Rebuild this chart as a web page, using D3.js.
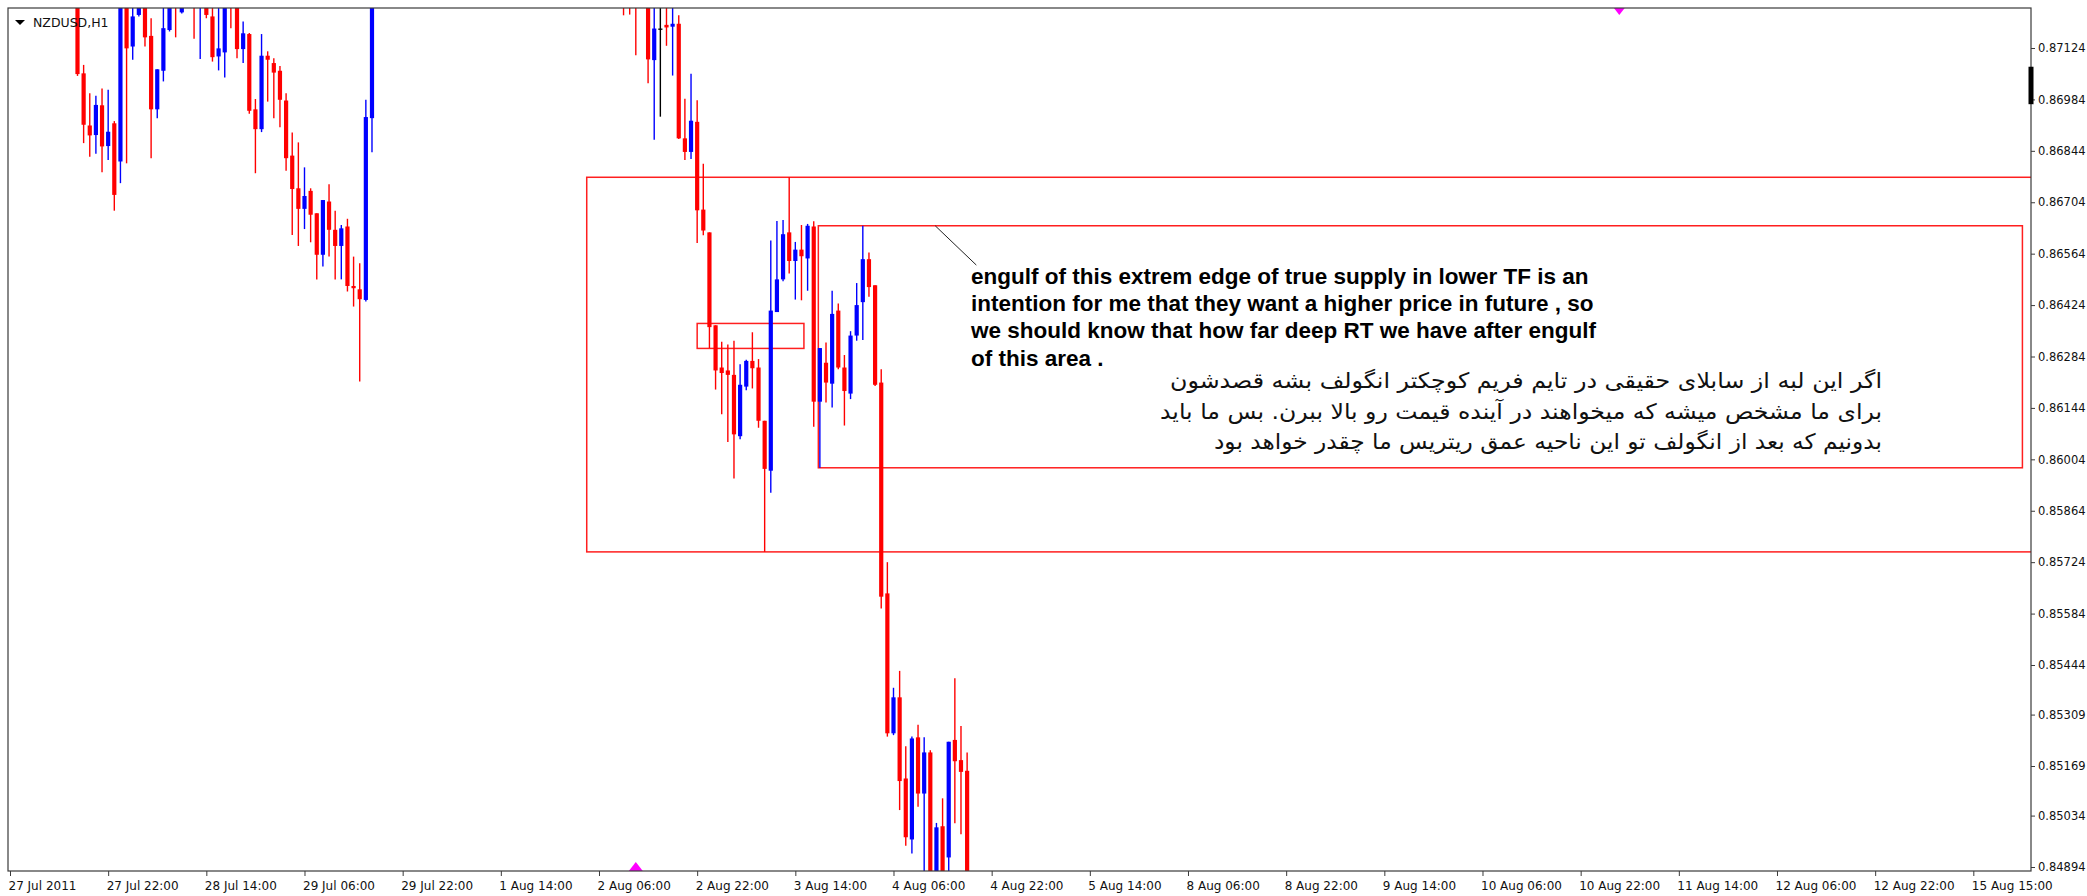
<!DOCTYPE html>
<html>
<head>
<meta charset="utf-8">
<script src="https://cdn.jsdelivr.net/npm/d3@7"></script>
<style>
  body { margin: 0; background: #fff; }
  svg { display: block; }
</style>
</head>
<body>
<div id="canvas"></div>
<script>
// time axis labels, one every 16 hourly bars (bar 0 = 27 Jul 06:00)
const timeLabels = ["27 Jul 2011", "27 Jul 22:00", "28 Jul 14:00", "29 Jul 06:00", "29 Jul 22:00",
  "1 Aug 14:00", "2 Aug 06:00", "2 Aug 22:00", "3 Aug 14:00", "4 Aug 06:00", "4 Aug 22:00",
  "5 Aug 14:00", "8 Aug 06:00", "8 Aug 22:00", "9 Aug 14:00", "10 Aug 06:00", "10 Aug 22:00",
  "11 Aug 14:00", "12 Aug 06:00", "12 Aug 22:00", "15 Aug 15:00"];
const priceTicks = [0.87124, 0.86984, 0.86844, 0.86704, 0.86564, 0.86424, 0.86284, 0.86144,
  0.86004, 0.85864, 0.85724, 0.85584, 0.85444, 0.85309, 0.85169, 0.85034, 0.84894];

// candles that are (at least partly) inside the window
const barIndex = [11, 12, 13, 14, 15, 16, 17, 18, 19, 20, 21, 22, 23, 24, 25, 26, 27, 28, 30, 31,
  32, 33, 34, 35, 36, 37, 38, 39, 40, 41, 42, 43, 44, 45, 46, 47, 48, 49, 50, 51,
  52, 53, 54, 55, 56, 57, 58, 59,
  100, 101, 102, 104, 105, 106, 107, 108, 109, 110, 111, 112, 113, 114, 115, 116, 117, 118,
  119, 120, 121, 122, 123, 124, 125, 126, 127, 128, 129, 130, 131, 132, 133, 134, 135, 136,
  137, 138, 139, 140, 141, 142, 143, 144, 145, 146, 147, 148, 149, 150, 151, 152, 153, 154, 155, 156];
const open = [0.8727, 0.87055, 0.86913, 0.86887, 0.86968, 0.86857, 0.86919, 0.86815, 0.8727, 0.87128,
  0.87214, 0.8727, 0.87157, 0.86957, 0.87062, 0.87173, 0.8729, 0.87221, 0.8730, 0.8726,
  0.8728, 0.87210, 0.87101, 0.87112, 0.8729, 0.8727, 0.87121, 0.87162, 0.86957, 0.86903,
  0.87103, 0.87083, 0.87062, 0.86981, 0.86831, 0.86742, 0.86686, 0.86735, 0.86674, 0.86561,
  0.86706, 0.86629, 0.86585, 0.86638, 0.86476, 0.86467, 0.86438, 0.86933,
  0.8728, 0.8728, 0.8729, 0.8727, 0.87091, 0.87177, 0.87187, 0.87182, 0.87190, 0.86878,
  0.86841, 0.86923, 0.86684, 0.86622, 0.86369, 0.86254, 0.86246, 0.86234, 0.86067, 0.86202,
  0.86272, 0.86254, 0.86109, 0.85973, 0.86405, 0.86494, 0.86622, 0.86544, 0.86575, 0.86551,
  0.86638, 0.86161, 0.86267, 0.86210, 0.86409, 0.86254, 0.86183, 0.86341, 0.86432, 0.86549,
  0.86478, 0.86213, 0.85639, 0.85258, 0.85356, 0.85135, 0.84969, 0.85247, 0.85094, 0.85206,
  0.8484, 0.85005, 0.84920, 0.85240, 0.85185, 0.85156];
const high = [0.8730, 0.87078, 0.87001, 0.86994, 0.87014, 0.87010, 0.86925, 0.8730, 0.8730, 0.8728,
  0.8729, 0.8729, 0.87205, 0.87066, 0.8728, 0.8729, 0.8731, 0.8729, 0.8732, 0.8732,
  0.8730, 0.8728, 0.8728, 0.8729, 0.8731, 0.8729, 0.87196, 0.87165, 0.86985, 0.87162,
  0.87115, 0.87096, 0.87075, 0.87001, 0.86894, 0.86867, 0.86799, 0.86742, 0.86674, 0.86710,
  0.86753, 0.86681, 0.86642, 0.86659, 0.86556, 0.86538, 0.86983, 0.8730,
  0.8730, 0.8730, 0.8731, 0.8729, 0.8728, 0.8728, 0.8728, 0.8728, 0.87213, 0.86986,
  0.87054, 0.86982, 0.86809, 0.86622, 0.86369, 0.86324, 0.86317, 0.86327, 0.86263, 0.86275,
  0.86350, 0.86277, 0.86109, 0.86600, 0.86653, 0.86656, 0.86772, 0.86596, 0.86642, 0.86645,
  0.86652, 0.86307, 0.86322, 0.86463, 0.86428, 0.86288, 0.86353, 0.86484, 0.86640, 0.86567,
  0.86478, 0.86249, 0.85724, 0.85382, 0.85428, 0.85223, 0.85249, 0.85281, 0.85247, 0.85212,
  0.85014, 0.85081, 0.85235, 0.85408, 0.85278, 0.85206];
const low = [0.87048, 0.86865, 0.86828, 0.86836, 0.86786, 0.86819, 0.86681, 0.86756, 0.86810, 0.87092,
  0.87210, 0.87128, 0.86824, 0.86933, 0.87033, 0.87169, 0.87153, 0.87218, 0.87149, 0.87094,
  0.87205, 0.87087, 0.87063, 0.87044, 0.87178, 0.87096, 0.87083, 0.86945, 0.86783, 0.86895,
  0.86978, 0.86933, 0.86908, 0.86790, 0.86615, 0.86585, 0.86631, 0.86595, 0.86494, 0.86529,
  0.86556, 0.86494, 0.86494, 0.86461, 0.86420, 0.86216, 0.86434, 0.86840,
  0.87213, 0.87215, 0.87104, 0.87028, 0.86874, 0.86937, 0.87130, 0.87049, 0.86876, 0.86819,
  0.86822, 0.86593, 0.86614, 0.86307, 0.86194, 0.86127, 0.86051, 0.85952, 0.86059, 0.86192,
  0.86197, 0.86090, 0.85752, 0.85913, 0.86405, 0.86489, 0.86510, 0.86439, 0.86437, 0.86463,
  0.86093, 0.85981, 0.86159, 0.86145, 0.86249, 0.86096, 0.86168, 0.86327, 0.86329, 0.86447,
  0.86204, 0.85598, 0.85249, 0.85253, 0.85049, 0.84952, 0.84931, 0.85058, 0.8484, 0.8482,
  0.8482, 0.8482, 0.8484, 0.85013, 0.84983, 0.8482];
const close = [0.87053, 0.86915, 0.86886, 0.86969, 0.86856, 0.86896, 0.86724, 0.8728, 0.87123, 0.87210,
  0.8727, 0.87153, 0.86957, 0.87066, 0.87178, 0.8727, 0.8726, 0.8727, 0.8727, 0.8729,
  0.87214, 0.87099, 0.87123, 0.8727, 0.8727, 0.87121, 0.87164, 0.86953, 0.86903, 0.87103,
  0.87092, 0.87057, 0.86983, 0.86824, 0.86740, 0.86686, 0.86721, 0.86670, 0.86561, 0.86710,
  0.86629, 0.86585, 0.86633, 0.86476, 0.86470, 0.86440, 0.86936, 0.8728,
  0.8726, 0.8726, 0.8727, 0.87093, 0.87177, 0.87177, 0.87180, 0.87190, 0.86878, 0.86841,
  0.86926, 0.86682, 0.86627, 0.86364, 0.86246, 0.86239, 0.86234, 0.86072, 0.86207, 0.86272,
  0.86252, 0.86109, 0.85978, 0.86409, 0.86494, 0.86617, 0.86544, 0.86575, 0.86557, 0.86640,
  0.86161, 0.86307, 0.86213, 0.86400, 0.86254, 0.86190, 0.86341, 0.86424, 0.86549, 0.86473,
  0.86207, 0.85630, 0.85258, 0.85356, 0.85128, 0.84975, 0.85244, 0.85094, 0.85206, 0.8484,
  0.85002, 0.8484, 0.85235, 0.85182, 0.85153, 0.8484];

// rectangles drawn on the chart: [from bar, to bar, low price, high price]
const zoneStart = [94, 131.75, 112];
const zoneEnd = [340, 328, 129.4];
const zoneLow = [0.85752, 0.85981, 0.86306];
const zoneHigh = [0.86772, 0.86640, 0.86374];

// arrow objects
const arrowBar = [102, 262.3];
const arrowDir = ["up", "down"];

const noteEn = ["engulf of this extrem edge of true supply in lower TF is an",
  "intention for me that they want a higher price in future , so",
  "we should know that how far deep RT we have after engulf",
  "of this area ."];
const noteFa = ["اگر این لبه از سابلای حقیقی در تایم فریم کوچکتر انگولف بشه قصدشون",
  "برای ما مشخص میشه که میخواهند در آینده قیمت رو بالا ببرن. بس ما باید",
  "بدونیم که بعد از انگولف تو این ناحیه عمق ریتریس ما چقدر خواهد بود"];
const noteFaWidth = [712, 722, 668];

const width = 2087, height = 896;
const frame = {left: 8, top: 8, right: 2031, bottom: 871};

const candles = barIndex.map((b, i) => ({b: b, o: open[i], h: high[i], l: low[i], c: close[i]}));

const x = d3.scaleLinear().domain([0, 329.4]).range([10, frame.right]);
const y = d3.scaleLinear().domain([0.84894, 0.87124]).range([867, 48]);

const svg = d3.select("#canvas").append("svg")
  .attr("width", width).attr("height", height)
  .style("font-family", "'DejaVu Sans', sans-serif");

svg.append("rect").attr("width", width).attr("height", height).attr("fill", "#fff");

svg.append("clipPath").attr("id", "plot")
  .append("rect")
  .attr("x", frame.left).attr("y", frame.top)
  .attr("width", frame.right - frame.left).attr("height", frame.bottom - frame.top);

const g = svg.append("g").attr("clip-path", "url(#plot)");

// zones
g.selectAll("rect.zone").data(zoneStart).enter().append("rect")
  .attr("class", "zone")
  .attr("x", (d, i) => x(d))
  .attr("y", (d, i) => y(zoneHigh[i]))
  .attr("width", (d, i) => x(zoneEnd[i]) - x(d))
  .attr("height", (d, i) => y(zoneLow[i]) - y(zoneHigh[i]))
  .attr("fill", "none")
  .attr("stroke", "#ff1f1f")
  .attr("stroke-width", 1.5);

const colorOf = d => d.c > d.o ? "#0000ff" : (d.c < d.o ? "#ff0000" : "#000000");

// wicks
g.selectAll("line.wick").data(candles).enter().append("line")
  .attr("class", "wick")
  .attr("x1", d => x(d.b)).attr("x2", d => x(d.b))
  .attr("y1", d => y(d.h)).attr("y2", d => y(d.l))
  .attr("stroke", colorOf)
  .attr("stroke-width", 1.4);

// bodies
g.selectAll("rect.body").data(candles).enter().append("rect")
  .attr("class", "body")
  .attr("x", d => x(d.b) - 2.1)
  .attr("width", 4.2)
  .attr("y", d => y(Math.max(d.o, d.c)))
  .attr("height", d => Math.max(1.3, Math.abs(y(d.o) - y(d.c))))
  .attr("fill", colorOf);

// annotation pointer
g.append("line")
  .attr("x1", x(150.8)).attr("y1", y(0.86640))
  .attr("x2", x(157.5)).attr("y2", y(0.86533))
  .attr("stroke", "#222").attr("stroke-width", 1);

// arrows
g.selectAll("path.arrow").data(arrowBar).enter().append("path")
  .attr("class", "arrow")
  .attr("d", (d, i) => {
    const cx = x(d);
    if (arrowDir[i] === "up") {
      const base = frame.bottom;
      return `M${cx - 7},${base} L${cx},${base - 9} L${cx + 7},${base} Z`;
    }
    return `M${cx - 7},${frame.top - 2} L${cx},${frame.top + 7} L${cx + 7},${frame.top - 2} Z`;
  })
  .attr("fill", "#ff00ff");

// frame
svg.append("rect")
  .attr("x", frame.left).attr("y", frame.top)
  .attr("width", frame.right - frame.left).attr("height", frame.bottom - frame.top)
  .attr("fill", "none").attr("stroke", "#3a3a3a").attr("stroke-width", 1.2);

// price axis
const yAxis = svg.append("g")
  .attr("transform", `translate(${frame.right},0)`)
  .call(d3.axisRight(y).tickValues(priceTicks).tickFormat(d3.format(".5f")).tickSize(4).tickPadding(3));
yAxis.select(".domain").remove();
yAxis.selectAll("line").attr("stroke", "#3a3a3a");
yAxis.selectAll("text").attr("font-size", 11.5).attr("font-family", "'DejaVu Sans', sans-serif").attr("fill", "#111");

// black marker on the price scale
svg.append("line")
  .attr("x1", frame.right).attr("x2", frame.right)
  .attr("y1", y(0.87073)).attr("y2", y(0.86971))
  .attr("stroke", "#000").attr("stroke-width", 5);

// time axis
const xAxis = svg.append("g")
  .attr("transform", `translate(0,${frame.bottom})`)
  .call(d3.axisBottom(x).tickValues(timeLabels.map((d, i) => i * 16))
    .tickFormat((d, i) => timeLabels[i]).tickSize(5));
xAxis.select(".domain").remove();
xAxis.selectAll("line").attr("stroke", "#3a3a3a");
xAxis.selectAll("text")
  .attr("text-anchor", "start").attr("x", -2).attr("y", 10)
  .attr("font-size", 12).attr("font-family", "'DejaVu Sans', sans-serif").attr("fill", "#111");

// symbol label
svg.append("path").attr("d", "M15,20 L25,20 L20,25 Z").attr("fill", "#000");
svg.append("text").attr("x", 33).attr("y", 27)
  .attr("font-size", 12.5).attr("fill", "#111").text("NZDUSD,H1");

// notes
svg.append("g").selectAll("text").data(noteEn).enter().append("text")
  .attr("x", 971)
  .attr("y", (d, i) => 283.5 + i * 27.4)
  .attr("font-family", "'Liberation Sans', Arial, sans-serif")
  .attr("font-weight", "bold")
  .attr("font-size", 22.5)
  .attr("fill", "#000")
  .text(d => d);

svg.append("g").selectAll("text").data(noteFa).enter().append("text")
  .attr("x", 1882)
  .attr("y", (d, i) => 388 + i * 30.5)
  .attr("text-anchor", "end")
  .attr("font-family", "'DejaVu Sans', sans-serif")
  .attr("font-size", 21.5)
  .attr("textLength", (d, i) => noteFaWidth[i])
  .attr("lengthAdjust", "spacingAndGlyphs")
  .attr("fill", "#111")
  .text(d => d);
</script>
</body>
</html>
